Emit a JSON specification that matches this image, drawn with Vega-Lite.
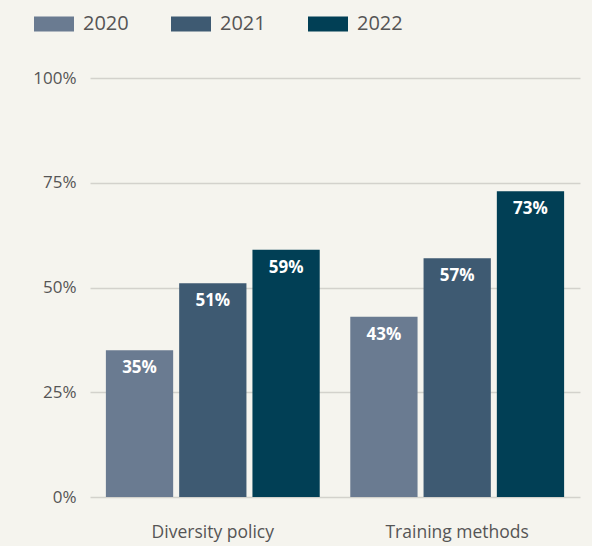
{
  "$schema": "https://vega.github.io/schema/vega-lite/v6.json",
  "width": 490,
  "height": 419,
  "autosize": "none",
  "padding": {"left": 90, "top": 78, "right": 12, "bottom": 49},
  "background": "#f5f4ee",
  "config": {
    "view": {"stroke": null},
    "font": "Open Sans"
  },
  "data": {
    "values": [
      {"category": "Diversity policy", "year": "2020", "value": 0.35},
      {"category": "Diversity policy", "year": "2021", "value": 0.51},
      {"category": "Diversity policy", "year": "2022", "value": 0.59},
      {"category": "Training methods", "year": "2020", "value": 0.43},
      {"category": "Training methods", "year": "2021", "value": 0.57},
      {"category": "Training methods", "year": "2022", "value": 0.73}
    ]
  },
  "encoding": {
    "x": {
      "field": "category",
      "type": "nominal",
      "sort": null,
      "scale": {"paddingInner": 0.125, "paddingOuter": 0.065},
      "axis": {
        "title": null,
        "labelAngle": 0,
        "ticks": false,
        "domain": false,
        "labelFontSize": 17.5,
        "labelColor": "#555555",
        "labelPadding": 26
      }
    },
    "xOffset": {
      "field": "year",
      "type": "nominal",
      "scale": {"paddingInner": 0.082, "paddingOuter": 0}
    },
    "y": {
      "field": "value",
      "type": "quantitative",
      "scale": {"domain": [0, 1]},
      "axis": {
        "title": null,
        "values": [0, 0.25, 0.5, 0.75, 1],
        "format": ".0%",
        "ticks": false,
        "domain": false,
        "grid": true,
        "gridColor": "#d3d2cc",
        "gridWidth": 1.5,
        "labelFontSize": 17,
        "labelColor": "#555555",
        "labelPadding": 14
      }
    }
  },
  "layer": [
    {
      "mark": {"type": "bar"},
      "encoding": {
        "color": {
          "field": "year",
          "type": "nominal",
          "scale": {
            "domain": ["2020", "2021", "2022"],
            "range": ["#6a7b91", "#3e5a72", "#013f55"]
          },
          "legend": {
            "title": null,
            "orient": "none",
            "direction": "horizontal",
            "legendX": -56,
            "legendY": -74,
            "symbolType": "M-1,-0.375H1V0.375H-1Z",
            "symbolSize": 1600,
            "symbolStrokeWidth": 0,
            "symbolOpacity": 1,
            "labelFontSize": 20,
            "labelColor": "#555555",
            "labelOffset": 9,
            "columnPadding": 42
          }
        }
      }
    },
    {
      "mark": {
        "type": "text",
        "baseline": "top",
        "dy": 10,
        "color": "white",
        "fontSize": 17,
        "fontWeight": "bold"
      },
      "encoding": {
        "text": {"field": "value", "type": "quantitative", "format": ".0%"}
      }
    }
  ]
}
